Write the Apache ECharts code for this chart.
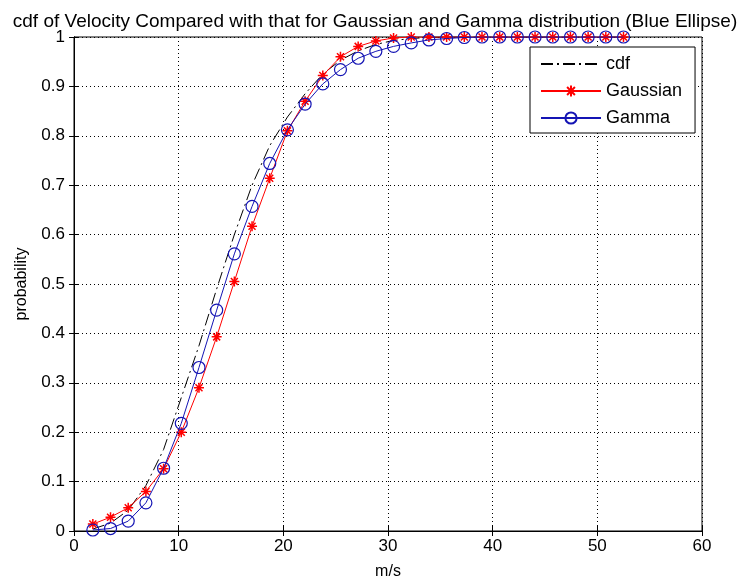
<!DOCTYPE html>
<html>
<head>
<meta charset="utf-8">
<script src="https://cdn.jsdelivr.net/npm/echarts@6/dist/echarts.min.js"></script>
<style>
  html, body { margin: 0; padding: 0; background: #fff; }
  #chart { width: 750px; height: 586px; }
</style>
</head>
<body>
<div id="chart"></div>
<script>
// Wind speed bins (m/s) at which the distributions are evaluated
const velocity = [1.80, 3.49, 5.18, 6.87, 8.56, 10.25, 11.94, 13.63, 15.32, 17.01, 18.70, 20.39, 22.08, 23.77,
  25.46, 27.15, 28.84, 30.53, 32.22, 33.91, 35.60, 37.29, 38.98, 40.67, 42.36, 44.05, 45.74, 47.43, 49.12, 50.81, 52.50];

// Empirical cumulative distribution of the measured velocity
const cdfValues = [0.004, 0.016, 0.042, 0.092, 0.165, 0.270, 0.375, 0.490, 0.600, 0.700, 0.780, 0.838, 0.885,
  0.925, 0.953, 0.972, 0.985, 0.993, 0.997, 0.999, 1, 1, 1, 1, 1, 1, 1, 1, 1, 1, 1];

// Fitted Gaussian cdf
const gaussianValues = [0.014, 0.028, 0.047, 0.080, 0.126, 0.200, 0.290, 0.393, 0.505, 0.617, 0.714, 0.810, 0.870,
  0.922, 0.960, 0.981, 0.992, 0.998, 1, 1, 1, 1, 1, 1, 1, 1, 1, 1, 1, 1, 1];

// Fitted Gamma cdf
const gammaValues = [0.002, 0.005, 0.020, 0.057, 0.127, 0.218, 0.331, 0.447, 0.561, 0.657, 0.744, 0.812, 0.864,
  0.905, 0.934, 0.957, 0.971, 0.981, 0.988, 0.994, 0.997, 0.999, 1, 1, 1, 1, 1, 1, 1, 1, 1];

const seriesNames = ['cdf', 'Gaussian', 'Gamma'];
const titleText = 'cdf of Velocity Compared with that for Gaussian and Gamma distribution (Blue Ellipse)';
const xName = 'm/s';
const yName = 'probability';

const FONT = 'Liberation Sans, Arial, sans-serif';
const RED = '#ff0000';
const BLUE = '#1414b4';
const pairs = (xs, ys) => xs.map((x, i) => [x, ys[i]]);

// eight-armed asterisk marker
const starPath = 'path://M0,5L10,5M5,0L5,10M1.5,1.5L8.5,8.5M1.5,8.5L8.5,1.5';

const chart = echarts.init(document.getElementById('chart'), null, { renderer: 'canvas' });

const tickStyle = { show: true, inside: true, length: 5, lineStyle: { color: '#000', width: 1 } };
const gridLine = { show: true, lineStyle: { color: '#000', width: 1, type: [1, 3] } };
const frameLine = { show: true, lineStyle: { color: '#000', width: 1 } };

chart.setOption({
  backgroundColor: '#fff',
  animation: false,
  textStyle: { fontFamily: FONT },
  title: {
    text: titleText,
    left: 'center',
    top: 7,
    textStyle: { fontFamily: FONT, fontSize: 19, fontWeight: 'normal', color: '#000' }
  },
  grid: { left: 74, right: 48, top: 37, bottom: 55, show: true, borderColor: '#000', borderWidth: 1, backgroundColor: '#fff' },
  legend: {
    data: [
      { name: seriesNames[0], itemStyle: { opacity: 0 } },
      { name: seriesNames[1] },
      { name: seriesNames[2] }
    ],
    orient: 'vertical',
    left: 530,
    top: 47,
    padding: [8, 13, 6, 10],
    itemWidth: 60,
    itemHeight: 14,
    itemGap: 9,
    backgroundColor: '#fff',
    borderColor: '#000',
    borderWidth: 1,
    textStyle: { fontFamily: FONT, fontSize: 18, color: '#000' }
  },
  xAxis: [{
    type: 'value', min: 0, max: 60, interval: 10,
    name: xName, nameLocation: 'middle', nameGap: 33,
    nameTextStyle: { fontFamily: FONT, fontSize: 16, color: '#000' },
    axisLine: frameLine,
    axisTick: tickStyle,
    axisLabel: { fontFamily: FONT, fontSize: 17, color: '#000', margin: 7 },
    splitLine: gridLine
  }, {
    type: 'value', min: 0, max: 60, interval: 10, position: 'top',
    axisLine: frameLine, axisTick: tickStyle, axisLabel: { show: false }, splitLine: { show: false }
  }],
  yAxis: [{
    type: 'value', min: 0, max: 1, interval: 0.1,
    name: yName, nameLocation: 'middle', nameGap: 44,
    nameTextStyle: { fontFamily: FONT, fontSize: 16, color: '#000' },
    axisLine: frameLine,
    axisTick: tickStyle,
    axisLabel: { fontFamily: FONT, fontSize: 17, color: '#000', margin: 9 },
    splitLine: gridLine
  }, {
    type: 'value', min: 0, max: 1, interval: 0.1, position: 'right',
    axisLine: frameLine, axisTick: tickStyle, axisLabel: { show: false }, splitLine: { show: false }
  }],
  series: [{
    name: seriesNames[0],
    type: 'line',
    data: pairs(velocity, cdfValues),
    symbol: 'none',
    lineStyle: { color: '#000', width: 1, type: [12, 4, 2, 4] },
    itemStyle: { color: '#000' },
    z: 2
  }, {
    name: seriesNames[1],
    type: 'line',
    data: pairs(velocity, gaussianValues),
    symbol: starPath,
    symbolSize: 10,
    lineStyle: { color: RED, width: 1 },
    itemStyle: { color: RED, borderColor: RED, borderWidth: 1.5 },
    z: 3
  }, {
    name: seriesNames[2],
    type: 'line',
    data: pairs(velocity, gammaValues),
    symbol: 'circle',
    symbolSize: 12,
    lineStyle: { color: BLUE, width: 1 },
    itemStyle: { color: 'rgba(0,0,0,0)', borderColor: BLUE, borderWidth: 1.2 },
    z: 4
  }]
});
</script>
</body>
</html>
